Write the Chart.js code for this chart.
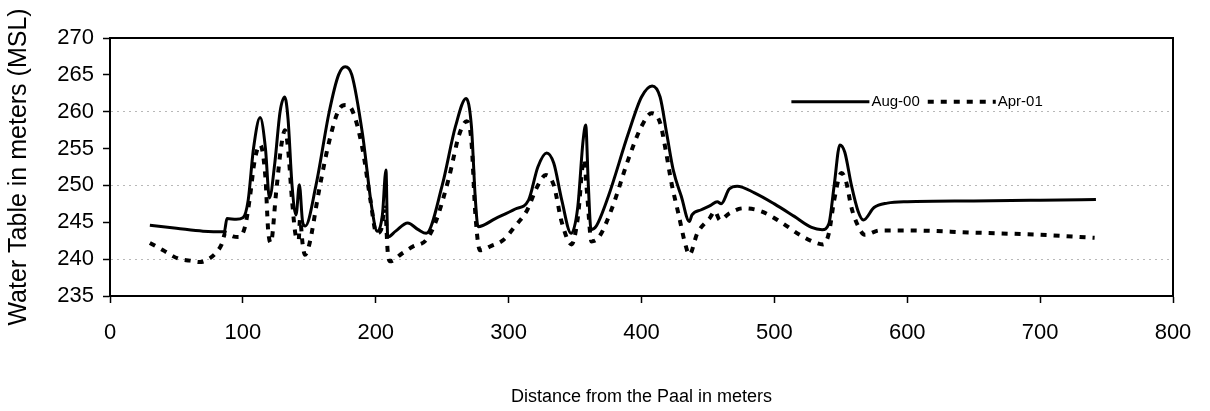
<!DOCTYPE html>
<html>
<head>
<meta charset="utf-8">
<script src="https://cdn.jsdelivr.net/npm/chart.js@4"></script>
<style>
  body { margin: 0; background: #fff; }
  #wrap { width: 1210px; height: 411px; }
</style>
</head>
<body>
<div id="wrap"><canvas id="waterChart"></canvas></div>
<script>
// values
const distAug = [30, 50, 70, 86, 88, 95, 100, 104, 108, 113, 117, 120, 124, 128, 131.5, 134, 137, 140, 142.5, 145, 147,
  155, 165, 172, 177, 182, 190, 197, 201, 205, 207.7, 209, 215, 224, 232, 238, 250, 260, 268, 272, 275, 277,
  290, 305, 315, 322, 328.6, 334, 340, 347, 352, 356, 358, 360, 362, 366, 375, 390, 400, 408, 414, 419, 424,
  430, 436, 438, 445, 452, 457, 460, 466, 472, 485, 500, 515, 528, 536, 541, 545, 549.3, 553, 558, 563, 567,
  575, 585, 600, 650, 700, 742];
const levelAug = [244.6, 244.2, 243.8, 243.7, 245.5, 245.4, 245.6, 248, 255, 259.2, 255, 248.3, 253, 260, 262, 259, 250, 246, 250.1, 245, 244.5,
  250, 260, 265, 266.1, 265, 257, 247, 243.8, 246, 252.1, 243, 243.8, 244.9, 244, 243.5, 250, 258, 261.8, 258, 248, 244.4,
  245.5, 246.8, 248, 252.5, 254.4, 253, 248, 243.5, 247, 256, 258.2, 250, 244, 244.5, 248.5, 257, 262, 263.5, 262, 257, 252,
  248.5, 245.1, 246, 246.7, 247.3, 247.8, 247.5, 249.5, 249.9, 249, 247.5, 245.8, 244.3, 244, 244.8, 250, 255.5, 254.5, 250, 246.5, 245.3,
  247, 247.6, 247.8, 247.9, 248, 248.1];

const distApr = [30, 40, 51, 60, 67.7, 75, 80, 84, 87, 92.5, 97, 101.6, 105, 109, 113, 117, 119, 121, 125, 129, 131.7, 134, 137, 140,
  142, 143, 145, 146.7, 150, 157, 165, 172, 177, 182, 190, 196, 200.6, 204, 207, 209, 210.7, 220, 228, 238, 245, 255,
  263, 268.4, 272, 275, 278.4, 287, 296, 305, 313.5, 322, 328, 334, 340, 347.4, 352, 356.7, 359, 362.4, 368, 378, 390,
  400, 407.6, 414, 418, 422.6, 428, 433, 436, 442, 451.5, 455.2, 459, 466, 476.5, 490, 505, 520, 530, 536.7, 541, 545,
  550.5, 554, 558, 563, 568, 579.4, 600, 650, 700, 741];
const levelApr = [242.2, 241.2, 240.1, 239.8, 239.6, 240.1, 240.9, 242, 243.6, 243.1, 243, 244.4, 248, 253.5, 255.5, 251, 244, 242.2, 249, 255.5, 257.5, 255, 248, 243,
  242.6, 245.4, 242, 240.6, 242, 249, 256, 260.2, 260.9, 260.3, 255, 248, 243.5, 244, 247, 241, 239.7, 240.8, 241.7, 242.6, 245, 251,
  257, 258.7, 256, 246, 241.2, 241.8, 242.6, 244.5, 246.5, 250, 251.4, 250, 245, 242, 245.5, 253.5, 249, 242.4, 243, 247, 253.5,
  258, 259.8, 258.5, 255, 250.3, 246, 242, 240.6, 243.5, 245.6, 246.5, 245.3, 246.2, 246.9, 246.5, 245, 243.2, 242.3, 242, 243.5, 248,
  251.7, 250.5, 247, 244.5, 243.3, 243.9, 243.9, 243.6, 243.3, 242.9];

const seriesNames = ['Aug-00', 'Apr-01'];
const yTicks = [235, 240, 245, 250, 255, 260, 265, 270];
const xTicks = [0, 100, 200, 300, 400, 500, 600, 700, 800];
const gridValues = [240, 250, 260];

const fontFam = '"Liberation Sans Narrow", "Liberation Sans", Arial, sans-serif';

function toPoints(xs, ys) {
  return xs.map((x, i) => ({ x: x, y: ys[i] }));
}

// frame on top/right and the in-plot legend
const framePlugin = {
  id: 'frame',
  afterDraw(chart) {
    const ctx = chart.ctx;
    const a = chart.chartArea;
    ctx.save();
    ctx.strokeStyle = '#000';
    ctx.lineWidth = 2;
    ctx.beginPath();
    ctx.moveTo(a.left, a.top);
    ctx.lineTo(a.right, a.top);
    ctx.lineTo(a.right, a.bottom);
    ctx.stroke();

    // legend
    const ly = a.top + (a.bottom - a.top) * 0.247;
    let lx = a.left + (a.right - a.left) * 0.641;
    ctx.font = '15px ' + fontFam;
    ctx.textBaseline = 'middle';
    ctx.fillStyle = '#000';
    chart.data.datasets.forEach((ds, i) => {
      const segLen = i === 0 ? 78 : 68;
      ctx.beginPath();
      ctx.lineWidth = ds.borderWidth;
      ctx.setLineDash(ds.borderDash || []);
      ctx.moveTo(lx, ly);
      ctx.lineTo(lx + segLen, ly);
      ctx.stroke();
      ctx.setLineDash([]);
      ctx.fillText(ds.label, lx + segLen + 2, ly);
      lx += segLen + 2 + ctx.measureText(ds.label).width + 8;
    });
    ctx.restore();
  }
};

document.addEventListener('DOMContentLoaded', function () {
  const ctx = document.getElementById('waterChart').getContext('2d');
  new Chart(ctx, {
    type: 'line',
    data: {
      datasets: [
        {
          label: seriesNames[0],
          data: toPoints(distAug, levelAug),
          borderColor: '#000',
          borderWidth: 3,
          pointRadius: 0,
          cubicInterpolationMode: 'monotone',
          fill: false
        },
        {
          label: seriesNames[1],
          data: toPoints(distApr, levelApr),
          borderColor: '#000',
          borderWidth: 4,
          borderDash: [6, 7],
          pointRadius: 0,
          cubicInterpolationMode: 'monotone',
          fill: false
        }
      ]
    },
    options: {
      responsive: true,
      maintainAspectRatio: false,
      animation: false,
      layout: { padding: { top: 38, right: 37, left: 0, bottom: 0 } },
      plugins: {
        legend: { display: false },
        tooltip: { enabled: false }
      },
      scales: {
        x: {
          type: 'linear',
          min: 0,
          max: 800,
          afterBuildTicks: (scale) => { scale.ticks = xTicks.map(v => ({ value: v })); },
          afterFit: (scale) => { scale.height = 115; },
          ticks: {
            color: '#000',
            font: { family: fontFam, size: 22 },
            padding: 17,
            maxRotation: 0
          },
          grid: {
            drawOnChartArea: false,
            tickLength: 7,
            tickColor: '#000',
            tickWidth: 1.5
          },
          border: { display: true, color: '#000', width: 2 },
          title: {
            display: true,
            text: 'Distance from the Paal in meters',
            color: '#000',
            font: { family: fontFam, size: 18 },
            padding: { top: 0, bottom: 3 }
          }
        },
        y: {
          min: 235,
          max: 270,
          afterBuildTicks: (scale) => { scale.ticks = yTicks.map(v => ({ value: v })); },
          afterFit: (scale) => { scale.width = 110; },
          ticks: {
            color: '#000',
            font: { family: fontFam, size: 22 },
            padding: 9
          },
          grid: {
            color: (c) => gridValues.includes(c.tick && c.tick.value) ? '#b8b8b8' : 'rgba(0,0,0,0)',
            lineWidth: 1,
            tickLength: 7,
            tickColor: '#000',
            tickWidth: 1.5
          },
          border: { display: true, color: '#000', width: 2, dash: [2, 4] },
          title: {
            display: true,
            text: 'Water Table in meters (MSL)',
            color: '#000',
            font: { family: fontFam, size: 25 },
            padding: { top: 4, bottom: 2 }
          }
        }
      }
    },
    plugins: [framePlugin]
  });
});
</script>
</body>
</html>
